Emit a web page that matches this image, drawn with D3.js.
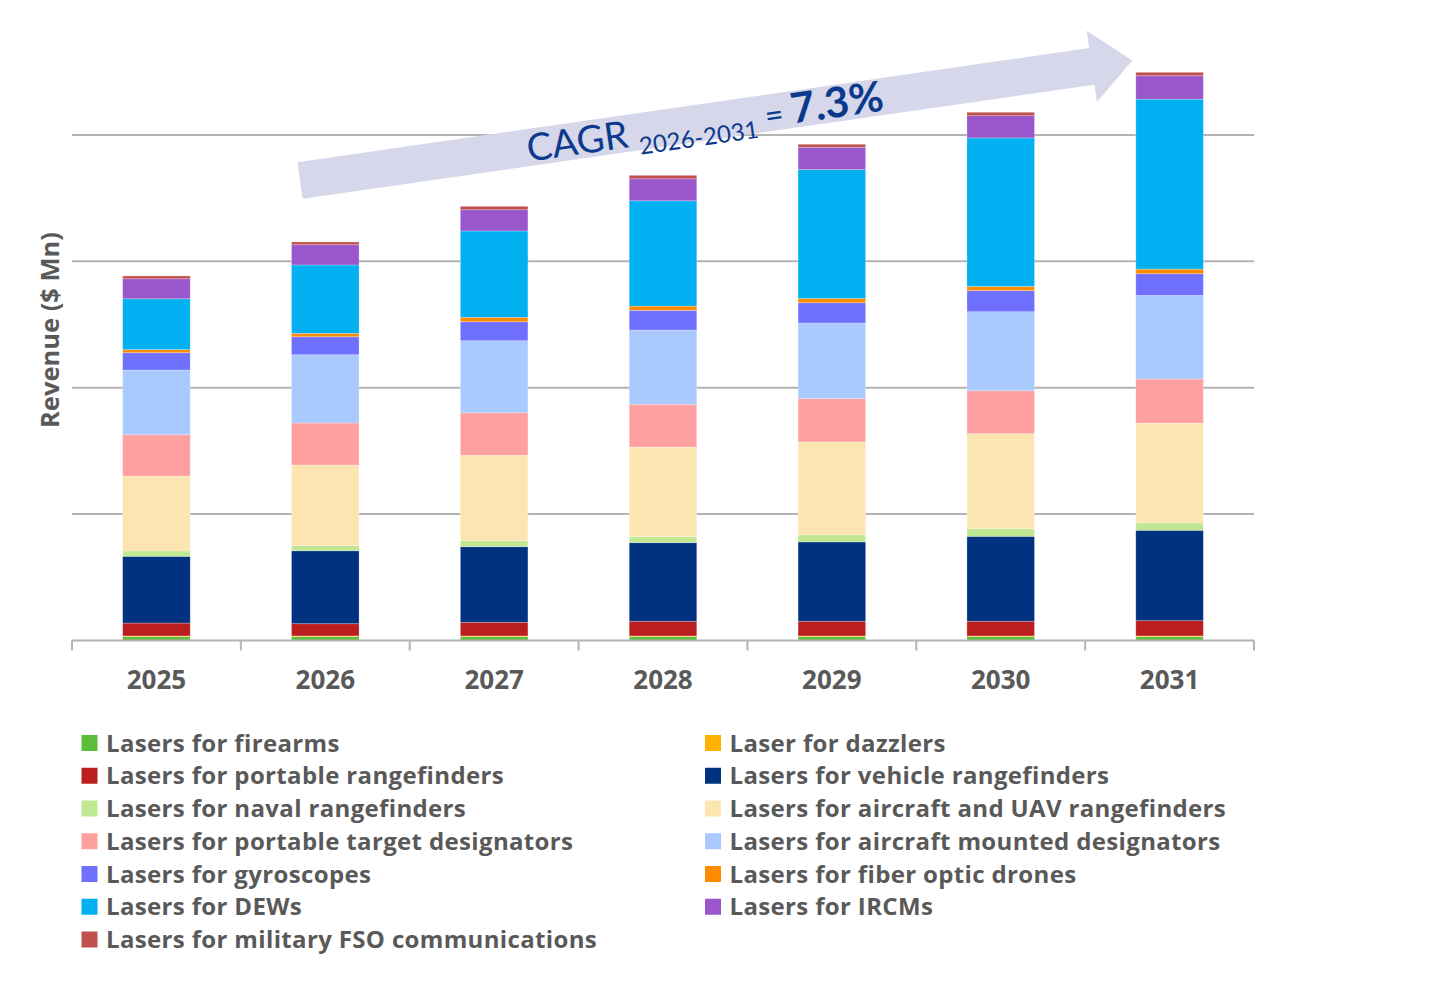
<!DOCTYPE html>
<html lang="en">
<head>
<meta charset="UTF-8">
<title>Military lasers revenue 2025-2031</title>
<script src="https://d3js.org/d3.v7.min.js"></script>
<style>
  body { margin: 0; background: #fff; }
  svg { font-family: "Open Sans", Lato, sans-serif; }
  .lbl { fill: #595959; font-weight: bold; }
  .cagr { font-family: Lato, "Open Sans", sans-serif; }
</style>
</head>
<body>
<svg id="chart" width="1433" height="999"></svg>
<script>
// categories
const years = ["2025", "2026", "2027", "2028", "2029", "2030", "2031"];

// series (revenue, arbitrary units; gridline step = 100)
const firearms      = [3.0, 3.0, 3.0, 3.0, 3.0, 3.0, 3.0];
const dazzlers      = [0.6, 0.6, 0.6, 0.6, 0.6, 0.6, 0.6];
const portableRF    = [10.2, 9.7, 10.8, 11.6, 11.6, 11.6, 12.1];
const vehicleRF     = [52.8, 57.7, 59.8, 62.2, 62.8, 67.2, 71.5];
const navalRF       = [4.2, 4.0, 4.8, 4.7, 5.6, 6.0, 5.9];
const aircraftRF    = [59.3, 63.8, 67.5, 71.0, 73.5, 75.3, 78.9];
const portableTD    = [32.7, 33.3, 33.7, 33.8, 34.3, 33.9, 34.9];
const aircraftDes   = [51.2, 54.0, 57.0, 58.7, 59.8, 62.5, 66.1];
const gyroscopes    = [13.7, 14.2, 15.0, 15.6, 16.0, 16.7, 17.2];
const fiberDrones   = [2.4, 2.7, 3.5, 3.4, 3.4, 3.3, 3.6];
const dews          = [40.3, 54.1, 68.3, 83.3, 102.0, 117.5, 134.5];
const ircms         = [15.8, 16.0, 16.8, 17.4, 17.6, 17.6, 18.5];
const fsoComms      = [2.2, 2.2, 2.7, 2.7, 2.4, 2.7, 2.7];

const seriesNames = [
  "Lasers for firearms", "Laser for dazzlers",
  "Lasers for portable rangefinders", "Lasers for vehicle rangefinders",
  "Lasers for naval rangefinders", "Lasers for aircraft and UAV rangefinders",
  "Lasers for portable target designators", "Lasers for aircraft mounted designators",
  "Lasers for gyroscopes", "Lasers for fiber optic drones",
  "Lasers for DEWs", "Lasers for IRCMs",
  "Lasers for military FSO communications"
];
const seriesValues = [firearms, dazzlers, portableRF, vehicleRF, navalRF, aircraftRF,
  portableTD, aircraftDes, gyroscopes, fiberDrones, dews, ircms, fsoComms];
const colors = ["#5bbd3a", "#ffb000", "#bb1e1e", "#00327f", "#c0e892", "#fde5b2",
  "#ffa0a0", "#a9c9ff", "#7070ff", "#ff8c00", "#00b0f0", "#9a57cc", "#c0504d"];

const cagrLabel = "7.3%";

// table for d3.stack
const rows = years.map((yr, i) => {
  const r = { year: yr };
  seriesNames.forEach((s, k) => r[s] = seriesValues[k][i]);
  return r;
});

const svg = d3.select("#chart");
const plotLeft = 72, plotRight = 1254, plotBottom = 640.5, plotTop = 8.5;

const x = d3.scaleBand().domain(years).range([plotLeft, plotRight])
  .paddingInner(0.6).paddingOuter(0.3);
const y = d3.scaleLinear().domain([0, 500]).range([plotBottom, plotTop]);
const color = d3.scaleOrdinal().domain(seriesNames).range(colors);

// gridlines
svg.append("g").selectAll("line")
  .data(y.ticks(5).filter(t => t > 0 && t < 500))
  .join("line")
  .attr("x1", plotLeft).attr("x2", plotRight)
  .attr("y1", d => y(d)).attr("y2", d => y(d))
  .attr("stroke", "#b5b3b3").attr("stroke-width", 2);

// stacked bars
const stacked = d3.stack().keys(seriesNames)(rows);
svg.append("g").selectAll("g")
  .data(stacked)
  .join("g")
  .attr("fill", d => color(d.key))
  .selectAll("rect")
  .data(d => d)
  .join("rect")
  .attr("x", d => x(d.data.year))
  .attr("width", x.bandwidth())
  .attr("y", d => y(d[1]))
  .attr("height", d => y(d[0]) - y(d[1]))
  .attr("stroke", "#ffffff").attr("stroke-opacity", 0.3).attr("stroke-width", 0.8);

// x axis: baseline, boundary ticks, labels
svg.append("line")
  .attr("x1", plotLeft).attr("x2", plotRight)
  .attr("y1", y(0)).attr("y2", y(0))
  .attr("stroke", "#b5b3b3").attr("stroke-width", 2);

svg.append("g").selectAll("line")
  .data(d3.range(years.length + 1))
  .join("line")
  .attr("x1", i => plotLeft + i * x.step()).attr("x2", i => plotLeft + i * x.step())
  .attr("y1", y(0)).attr("y2", y(0) + 10)
  .attr("stroke", "#b5b3b3").attr("stroke-width", 2);

svg.append("g").selectAll("text")
  .data(years)
  .join("text")
  .attr("class", "lbl")
  .attr("x", d => x(d) + x.bandwidth() / 2)
  .attr("y", 689)
  .attr("text-anchor", "middle")
  .attr("font-size", 26)
  .text(d => d);

// y axis title
svg.append("text")
  .attr("class", "lbl")
  .attr("transform", "translate(59,330) rotate(-90)")
  .attr("text-anchor", "middle")
  .attr("font-size", 25.5)
  .text("Revenue ($ Mn)");

// CAGR arrow
const arrowLen = 841, shaftHalf = 18.5, headHalf = 36, headLen = 41;
const arrow = svg.append("g")
  .attr("transform", "translate(300,180.5) rotate(-8.2)");
arrow.append("path")
  .attr("d", d3.line()([
    [0, -shaftHalf], [arrowLen - headLen, -shaftHalf], [arrowLen - headLen, -headHalf],
    [arrowLen, 0], [arrowLen - headLen, headHalf], [arrowLen - headLen, shaftHalf],
    [0, shaftHalf]
  ]) + "Z")
  .attr("fill", "#d6d7ea");

const cagr = arrow.append("text")
  .attr("class", "cagr")
  .attr("x", 229).attr("y", 14)
  .attr("fill", "#0b3a8d");
cagr.append("tspan").attr("font-size", 38).text("CAGR ");
cagr.append("tspan").attr("font-size", 24).attr("dy", 9).text("2026-2031");
cagr.append("tspan").attr("font-size", 32).attr("dy", -9).text(" = ");
cagr.append("tspan").attr("font-size", 42).attr("font-weight", "bold").text(cagrLabel);

// legend, two columns
const legend = svg.append("g").selectAll("g")
  .data(seriesNames)
  .join("g")
  .attr("transform", (d, i) => `translate(${i % 2 ? 705 : 81.5},${743 + Math.floor(i / 2) * 32.75})`);
legend.append("rect")
  .attr("x", 0).attr("y", -8).attr("width", 16).attr("height", 16)
  .attr("fill", d => color(d));
legend.append("text")
  .attr("class", "lbl")
  .attr("x", 24.5).attr("y", 8.5)
  .attr("font-size", 24)
  .attr("letter-spacing", 0.35)
  .text(d => d);
</script>
</body>
</html>
